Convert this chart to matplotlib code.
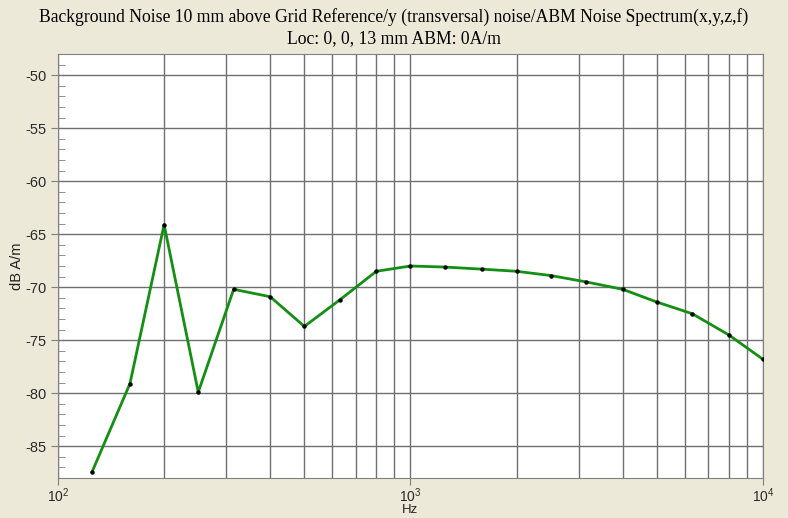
import matplotlib.pyplot as plt
import matplotlib.ticker as mticker

plt.rcParams["axes.unicode_minus"] = False

# 1/3 octave band centre frequencies (Hz) and measured noise level (dB A/m)
freqs = [125, 160, 200, 250, 315, 400, 500, 630, 800, 1000,
         1250, 1600, 2000, 2500, 3150, 4000, 5000, 6300, 8000, 10000]
levels = [-87.4, -79.1, -64.1, -79.9, -70.2, -70.9, -73.7, -71.2, -68.5, -68.0,
          -68.1, -68.3, -68.5, -68.9, -69.5, -70.2, -71.4, -72.5, -74.5, -76.8]

bg = "#ECE9D8"
fig = plt.figure(figsize=(7.88, 5.18), dpi=100, facecolor=bg)
ax = fig.add_axes([0.0736, 0.0772, 0.8946, 0.8186])
ax.set_facecolor("white")

ax.plot(freqs, levels, color="#148F14", lw=2, zorder=3)
ax.plot(freqs, levels, ls="none", marker="o", ms=2.2, color="black", zorder=4)

ax.set_xscale("log")
ax.set_xlim(100, 10000)
ax.set_ylim(-88, -48)

# Grid: horizontal every 5 dB, vertical at all decade subdivisions
ax.yaxis.set_major_locator(mticker.MultipleLocator(5))
ax.yaxis.set_minor_locator(mticker.MultipleLocator(1))
ax.xaxis.set_major_locator(mticker.LogLocator(base=10, numticks=5))
ax.xaxis.set_minor_locator(mticker.LogLocator(base=10, subs=range(2, 10), numticks=20))
ax.xaxis.set_minor_formatter(mticker.NullFormatter())
ax.grid(which="major", axis="both", color="#707070", lw=1)
ax.grid(which="minor", axis="x", color="#707070", lw=1)

ax.tick_params(axis="y", which="major", direction="out", length=5, color="#808080",
               labelsize=10.5, labelcolor="#2a2a2a")
ax.tick_params(axis="y", which="minor", direction="in", length=5, color="#808080")
ax.tick_params(axis="x", which="major", direction="out", length=5, color="#808080",
               labelsize=10, labelcolor="#2a2a2a", pad=1)
ax.tick_params(axis="x", which="minor", length=0)
for s in ax.spines.values():
    s.set_color("#808080")

for lab in ax.get_xticklabels() + ax.get_yticklabels():
    lab.set_family("Liberation Sans")

ax.set_ylabel("dB A/m", family="Liberation Sans", fontsize=10.5, labelpad=1, color="#222222")
ax.set_xlabel("Hz", family="Liberation Sans", fontsize=9.5, labelpad=-0.5, color="#222222")

fig.text(0.5, 0.967, "Background Noise 10 mm above Grid Reference/y (transversal) noise/ABM Noise Spectrum(x,y,z,f)",
         ha="center", va="center", family="Liberation Serif", fontsize=12.7)
fig.text(0.5, 0.926, "Loc: 0, 0, 13 mm ABM: 0A/m",
         ha="center", va="center", family="Liberation Serif", fontsize=12.7)

fig.savefig("out.png", dpi=100, facecolor=bg)
